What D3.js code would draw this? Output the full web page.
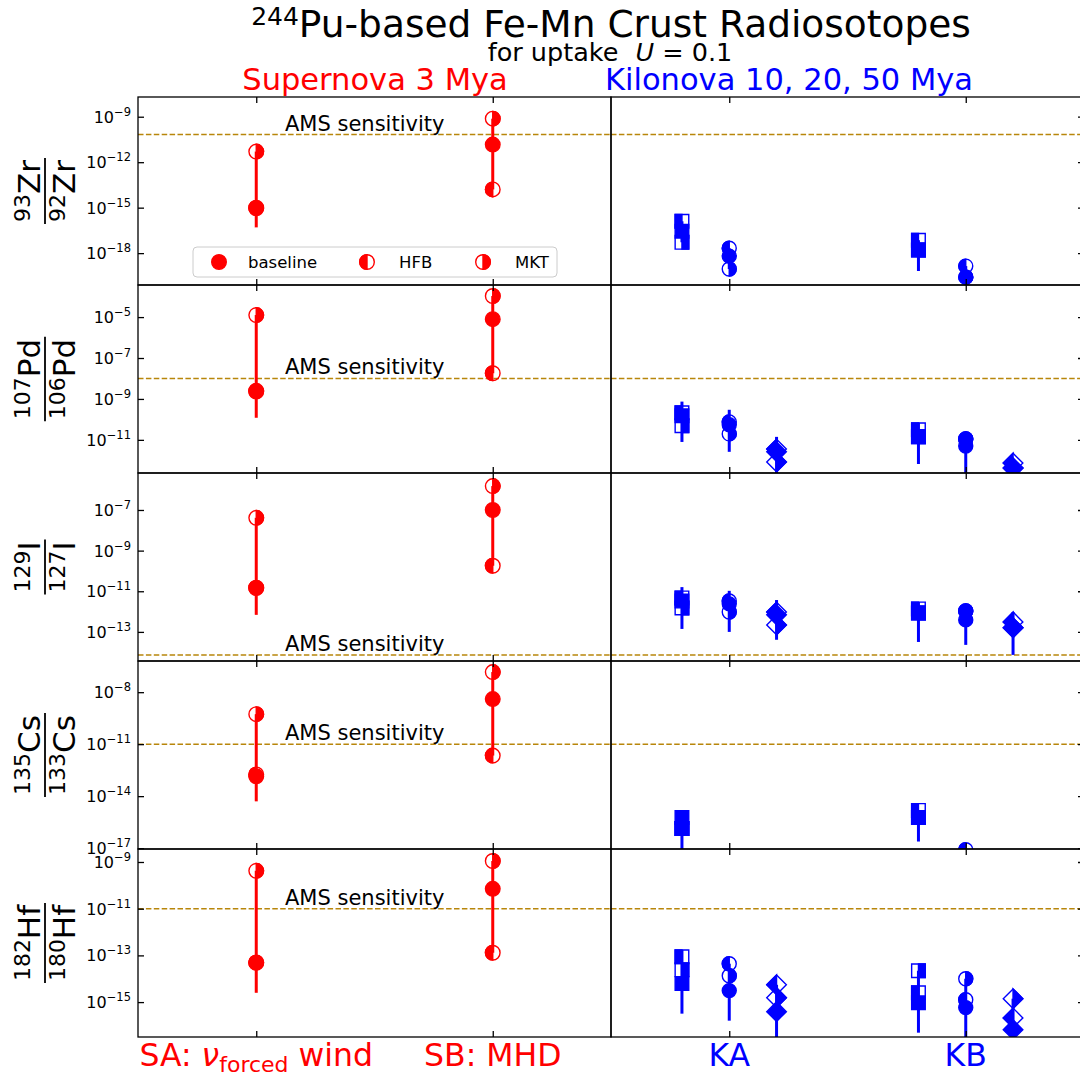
<!DOCTYPE html>
<html><head><meta charset="utf-8">
<script src="https://cdn.jsdelivr.net/npm/d3@7"></script>
<style>body{margin:0;background:#fff} svg{display:block} text{font-family:"DejaVu Sans",sans-serif}</style>
</head><body><svg id="c" width="1080" height="1078"></svg>
<script>
// ---------------- DATA ----------------
const isotopes = ["Zr", "Pd", "I", "Cs", "Hf"];
const numeratorMass = ["93", "107", "129", "135", "182"];
const denominatorMass = ["92", "106", "127", "133", "180"];
const yDomains = [[7.9e-21, 2.0e-8], [2.4e-13, 3.7e-4], [3.7e-15, 6.6e-6], [8.9e-18, 6.3e-7], [3.2e-17, 3.6e-9]];
const yTickValues = [[1e-18, 1e-15, 1e-12, 1e-9], [1e-11, 1e-9, 1e-7, 1e-5], [1e-13, 1e-11, 1e-9, 1e-7], [1e-17, 1e-14, 1e-11, 1e-8], [1e-15, 1e-13, 1e-11, 1e-9]];
const yTickExponents = [["−18", "−15", "−12", "−9"], ["−11", "−9", "−7", "−5"], ["−13", "−11", "−9", "−7"], ["−17", "−14", "−11", "−8"], ["−15", "−13", "−11", "−9"]];
const amsSensitivity = [6.6e-11, 1e-8, 7.4e-15, 1e-11, 1e-11];

const supernovaModels = ["SA", "SB"];
// [row][model]
const snBaseline = [[9.1e-16, 1.45e-11], [2.3e-9, 7.9e-6], [1.45e-11, 1.0e-7], [1.4e-13, 4.0e-9], [4.8e-14, 7.1e-11]];
const snHFB = [[1.0e-15, 1.6e-14], [2.5e-9, 1.8e-8], [1.5e-11, 1.8e-10], [1.8e-13, 2.2e-12], [5.0e-14, 1.3e-13]];
const snMKT = [[5.0e-12, 7.4e-10], [1.26e-5, 1.07e-4], [4.1e-8, 1.5e-6], [5.4e-10, 1.45e-7], [4.2e-10, 1.1e-9]];
const snErrLow = [[5.0e-17, 1.6e-14], [1.2e-10, 1.8e-8], [6.9e-13, 1.8e-10], [5.0e-15, 2.2e-12], [2.5e-15, 1.3e-13]];
const snErrHigh = [[5.0e-12, 7.4e-10], [1.26e-5, 1.07e-4], [4.1e-8, 1.5e-6], [5.4e-10, 1.45e-7], [4.2e-10, 1.1e-9]];

const kilonovaModels = ["KA", "KB"];
const kilonovaAges = ["10 Mya", "20 Mya", "50 Mya"];
// [row][model][age]
const knBaseline = [
  [[2.8e-17, 6.3e-19, null], [1.6e-18, 2.6e-20, null]],
  [[1.5e-10, 5.5e-11, 2.6e-12], [1.4e-11, 5.0e-12, 4.2e-13]],
  [[3.3e-12, 2.4e-12, 6.9e-13], [8.5e-13, 3.9e-13, 1.6e-13]],
  [[5.9e-16, null, null], [5.9e-16, null, null]],
  [[6.2e-15, 3.1e-15, 3.9e-16], [9.3e-16, 5.8e-16, 6.6e-17]]
];
const knHFB = [
  [[1.26e-16, 2.1e-18, null], [7.1e-18, 1.4e-19, null]],
  [[2.1e-10, 7.6e-11, 3.6e-12], [3.1e-11, 1.1e-11, 7.4e-13]],
  [[4.7e-12, 3.3e-12, 9.5e-13], [1.35e-12, 1.07e-12, 3.1e-13]],
  [[1.35e-16, null, null], [1.5e-15, 8.1e-18, null]],
  [[8.7e-14, 4.4e-14, 5.5e-15], [2.5e-15, 1.26e-15, 2.1e-16]]
];
const knMKT = [
  [[5.2e-18, 8.9e-20, null], [1.6e-18, 2.6e-20, null]],
  [[4.9e-11, 1.95e-11, 8.3e-13], [1.4e-11, 1.1e-11, 4.2e-13]],
  [[1.5e-12, 9.5e-13, 2.2e-13], [8.5e-13, 1.07e-12, 1.6e-13]],
  [[1.35e-16, null, null], [5.9e-16, null, null]],
  [[2.4e-14, 1.35e-14, 1.55e-15], [2.2e-14, 1.0e-14, 1.4e-15]]
];
const knErrLow = [
  [[5.2e-18, 8.9e-20, null], [6.6e-20, 2.6e-20, null]],
  [[7.9e-12, 2.6e-12, 1.6e-13], [6.6e-13, 1.6e-13, 1.6e-13]],
  [[1.4e-13, 1.0e-13, 4.1e-14], [3.2e-14, 2.3e-14, 7.4e-15]],
  [[7.2e-18, null, null], [2.4e-17, null, null]],
  [[3.2e-16, 1.6e-16, 2.5e-17], [4.9e-17, 2.5e-17, 2.5e-17]]
];
const knErrHigh = [
  [[1.26e-16, 2.1e-18, null], [7.1e-18, 1.4e-19, null]],
  [[7.4e-10, 2.95e-10, 1.4e-11], [6.9e-11, 2.5e-11, 1.0e-12]],
  [[1.6e-11, 1.05e-11, 3.7e-12], [2.95e-12, 2.1e-12, 9.5e-13]],
  [[1.5e-15, null, null], [1.5e-15, null, null]],
  [[1.7e-13, 4.4e-14, 5.5e-15], [2.2e-14, 1.0e-14, 1.4e-15]]
];
const ageOffsets = [-0.2, 0, 0.2];
const ageShapes = ["square", "circle", "diamond"];

// ---------------- LAYOUT ----------------
const RED = "#ff0000", BLUE = "#0000ff", GOLD = "#b8860b";
const L0 = 138, MID = 611, R1 = 1084;
const TOP = 97, ROWH = 188;
const svg = d3.select("#c");

const xL = d3.scaleLinear().domain([-0.5, 1.5]).range([L0, MID]);
const xR = d3.scaleLinear().domain([-0.5, 1.5]).range([MID, R1]);

function shapePath(shape, fill, s) {
  if (shape === "circle") {
    if (fill === "full") return `M${-s},0A${s},${s} 0 1 0 ${s},0A${s},${s} 0 1 0 ${-s},0Z`;
    if (fill === "left") return `M0,${-s}A${s},${s} 0 0 0 0,${s}Z`;
    return `M0,${-s}A${s},${s} 0 0 1 0,${s}Z`;
  }
  if (shape === "square") {
    if (fill === "full") return `M${-s},${-s}H${s}V${s}H${-s}Z`;
    if (fill === "left") return `M${-s},${-s}H0V${s}H${-s}Z`;
    return `M0,${-s}H${s}V${s}H0Z`;
  }
  if (fill === "full") return `M0,${-s}L${s},0L0,${s}L${-s},0Z`;
  if (fill === "left") return `M0,${-s}L${-s},0L0,${s}Z`;
  return `M0,${-s}L${s},0L0,${s}Z`;
}
function drawMarker(g, shape, fill, cx, cy, color, s) {
  const m = g.append("g").attr("transform", `translate(${cx},${cy})`);
  if (fill !== "full") {
    m.append("path").attr("d", shapePath(shape, "full", s)).attr("fill", "none").attr("stroke", color).attr("stroke-width", 1.4);
  }
  m.append("path").attr("d", shapePath(shape, fill, s)).attr("fill", color).attr("stroke", color).attr("stroke-width", 1.4);
}
function sizeFor(shape) { return shape === "circle" ? 7 : shape === "square" ? 6.8 : 9.8; }

// ---------------- TITLES ----------------
const t = svg.append("text").attr("x", 611).attr("y", 37).attr("text-anchor", "middle").attr("font-size", 37.5);
t.append("tspan").attr("font-size", 25).attr("dy", -12).text("244");
t.append("tspan").attr("dy", 12).text("Pu-based Fe-Mn Crust Radiosotopes");
const st = svg.append("text").attr("x", 610).attr("y", 61).attr("text-anchor", "middle").attr("font-size", 25.5);
st.append("tspan").text("for uptake ");
st.append("tspan").attr("dx", 9).attr("font-style", "italic").text("U");
st.append("tspan").text(" = 0.1");
svg.append("text").attr("x", 375).attr("y", 90).attr("text-anchor", "middle").attr("font-size", 30.5).attr("fill", RED).text("Supernova 3 Mya");
svg.append("text").attr("x", 789).attr("y", 90).attr("text-anchor", "middle").attr("font-size", 30.5).attr("fill", BLUE).text("Kilonova 10, 20, 50 Mya");

const defs = svg.append("defs");

isotopes.forEach((iso, r) => {
  const top = TOP + r * ROWH, bot = top + ROWH;
  const y = d3.scaleLog().domain(yDomains[r]).range([bot, top]);
  const clipL = "clipL" + r, clipR = "clipR" + r;
  defs.append("clipPath").attr("id", clipL).append("rect").attr("x", L0).attr("y", top).attr("width", MID - L0).attr("height", ROWH);
  defs.append("clipPath").attr("id", clipR).append("rect").attr("x", MID).attr("y", top).attr("width", R1 - MID).attr("height", ROWH);

  const gL = svg.append("g").attr("clip-path", `url(#${clipL})`);
  const gR = svg.append("g").attr("clip-path", `url(#${clipR})`);

  [gL, gR].forEach((g, i) => {
    g.append("line").attr("x1", i ? MID : L0).attr("x2", i ? R1 : MID)
      .attr("y1", y(amsSensitivity[r])).attr("y2", y(amsSensitivity[r]))
      .attr("stroke", GOLD).attr("stroke-width", 1.5).attr("stroke-dasharray", "5.5,2.4");
  });
  svg.append("text").attr("x", 285).attr("y", y(amsSensitivity[r]) - 4).attr("font-size", 21).text("AMS sensitivity");

  supernovaModels.forEach((m, j) => {
    const cx = xL(j);
    gL.append("line").attr("x1", cx).attr("x2", cx).attr("y1", y(snErrLow[r][j])).attr("y2", y(snErrHigh[r][j]))
      .attr("stroke", RED).attr("stroke-width", 3);
    drawMarker(gL, "circle", "left", cx, y(snHFB[r][j]), RED, 7.3);
    drawMarker(gL, "circle", "right", cx, y(snMKT[r][j]), RED, 7.3);
    drawMarker(gL, "circle", "full", cx, y(snBaseline[r][j]), RED, 7.3);
  });

  kilonovaModels.forEach((m, j) => {
    kilonovaAges.forEach((a, k) => {
      const cx = xR(j + ageOffsets[k]);
      const shape = ageShapes[k], s = sizeFor(shape);
      if (knErrLow[r][j][k] != null && knErrHigh[r][j][k] != null)
        gR.append("line").attr("x1", cx).attr("x2", cx).attr("y1", y(knErrLow[r][j][k])).attr("y2", y(knErrHigh[r][j][k]))
          .attr("stroke", BLUE).attr("stroke-width", 3);
      if (knHFB[r][j][k] != null) drawMarker(gR, shape, "left", cx, y(knHFB[r][j][k]), BLUE, s);
      if (knMKT[r][j][k] != null) drawMarker(gR, shape, "right", cx, y(knMKT[r][j][k]), BLUE, s);
      if (knBaseline[r][j][k] != null) drawMarker(gR, shape, "full", cx, y(knBaseline[r][j][k]), BLUE, s);
    });
  });

  [[L0, MID], [MID, R1]].forEach(([a, b]) => {
    svg.append("rect").attr("x", a).attr("y", top).attr("width", b - a).attr("height", ROWH)
      .attr("fill", "none").attr("stroke", "#000").attr("stroke-width", 1.3);
  });
  [xL, xR].forEach(xs => {
    svg.append("g").attr("transform", `translate(0,${top})`).call(d3.axisTop(xs).tickValues([0, 1]).tickSize(-6).tickFormat(""))
      .call(g => g.select(".domain").remove()).selectAll("line").attr("stroke-width", 1.3);
    svg.append("g").attr("transform", `translate(0,${bot})`).call(d3.axisBottom(xs).tickValues([0, 1]).tickSize(-6).tickFormat(""))
      .call(g => g.select(".domain").remove()).selectAll("line").attr("stroke-width", 1.3);
  });
  svg.append("g").attr("transform", `translate(${L0},0)`).call(d3.axisLeft(y).tickValues(yTickValues[r]).tickSize(-6).tickFormat(""))
    .call(g => g.select(".domain").remove()).selectAll("line").attr("stroke-width", 1.3);
  svg.append("g").attr("transform", `translate(${R1},0)`).call(d3.axisRight(y).tickValues(yTickValues[r]).tickSize(-6).tickFormat(""))
    .call(g => g.select(".domain").remove()).selectAll("line").attr("stroke-width", 1.3);
  yTickValues[r].forEach((v, i) => {
    const tt = svg.append("text").attr("x", 131).attr("y", y(v) + 6).attr("text-anchor", "end").attr("font-size", 16);
    tt.append("tspan").text("10");
    tt.append("tspan").attr("font-size", 11.5).attr("dy", -7).text(yTickExponents[r][i]);
  });

  // y label (fraction)
  const cy = (top + bot) / 2;
  const fg = svg.append("g").attr("transform", `translate(45,${cy}) rotate(-90)`);
  const num = fg.append("text").attr("x", 0).attr("y", -5).attr("text-anchor", "middle").attr("font-size", 31);
  num.append("tspan").attr("font-size", 22).attr("dy", -10).text(numeratorMass[r]);
  num.append("tspan").attr("dy", 10).text(iso);
  const den = fg.append("text").attr("x", 0).attr("y", 30).attr("text-anchor", "middle").attr("font-size", 31);
  den.append("tspan").attr("font-size", 22).attr("dy", -10).text(denominatorMass[r]);
  den.append("tspan").attr("dy", 10).text(iso);
  const wN = num.node().getComputedTextLength(), wD = den.node().getComputedTextLength();
  const w = Math.max(wN, wD) + 4;
  fg.append("line").attr("x1", -w / 2).attr("x2", w / 2).attr("y1", 0).attr("y2", 0).attr("stroke", "#000").attr("stroke-width", 1.8);

  if (r === 0) {
    const lg = svg.append("g");
    lg.append("rect").attr("x", 193).attr("y", 247).attr("width", 364).attr("height", 30).attr("rx", 4)
      .attr("fill", "#fff").attr("fill-opacity", 0.8).attr("stroke", "#cccccc").attr("stroke-width", 1);
    const items = [["full", "baseline", 219, 248], ["left", "HFB", 367, 399], ["right", "MKT", 483, 515]];
    items.forEach(([f, lab, mx, tx]) => {
      drawMarker(lg, "circle", f, mx, 262, RED, 7.3);
      lg.append("text").attr("x", tx).attr("y", 268).attr("font-size", 16.5).text(lab);
    });
  }
});

const by = 1066;
const sa = svg.append("text").attr("x", xL(0)).attr("y", by).attr("text-anchor", "middle").attr("font-size", 31.5).attr("fill", RED);
sa.append("tspan").text("SA: ");
sa.append("tspan").attr("font-style", "italic").text("ν");
sa.append("tspan").attr("font-size", 22).attr("dy", 6).text("forced");
sa.append("tspan").attr("dy", -6).text(" wind");
svg.append("text").attr("x", xL(1)).attr("y", by).attr("text-anchor", "middle").attr("font-size", 31.5).attr("fill", RED).text("SB: MHD");
kilonovaModels.forEach((m, j) => {
  svg.append("text").attr("x", xR(j)).attr("y", by).attr("text-anchor", "middle").attr("font-size", 31.5).attr("fill", BLUE).text(m);
});
</script></body></html>
